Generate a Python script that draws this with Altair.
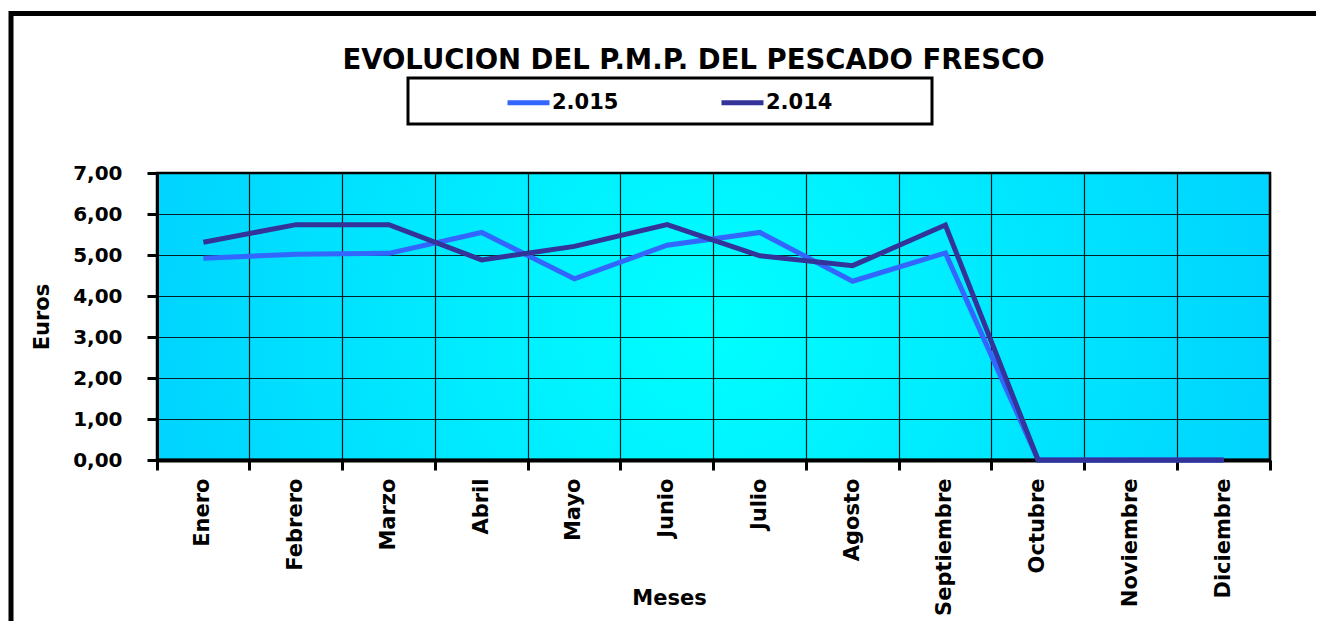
import altair as alt
import pandas as pd

months = ["Enero", "Febrero", "Marzo", "Abril", "Mayo", "Junio", "Julio",
          "Agosto", "Septiembre", "Octubre", "Noviembre", "Diciembre"]
v2015 = [4.92, 5.02, 5.04, 5.55, 4.42, 5.24, 5.55, 4.36, 5.05, 0.0, 0.0, 0.0]
v2014 = [5.31, 5.74, 5.74, 4.88, 5.21, 5.74, 4.98, 4.74, 5.73, 0.0, 0.0, 0.0]
series_names = ["2.015", "2.014"]
series_colors = ["#3366FF", "#333399"]
y_ticks = [0, 1, 2, 3, 4, 5, 6, 7]
title_text = "EVOLUCION DEL P.M.P. DEL PESCADO FRESCO"

rows = []
for m, a, b in zip(months, v2015, v2014):
    rows.append({"Mes": m, "Serie": series_names[0], "Euros": a})
    rows.append({"Mes": m, "Serie": series_names[1], "Euros": b})
df = pd.DataFrame(rows)

W, H = 1113, 287
FONT = "DejaVu Sans"

x_enc = alt.X(
    "Mes:N", sort=months, bandPosition=0.5,
    scale=alt.Scale(type="band", paddingInner=0, paddingOuter=0),
    axis=alt.Axis(
        title="Meses", labelAngle=-90, bandPosition=1, tickExtra=True,
        labelFont=FONT, labelFontSize=21,
        labelFontWeight="bold", labelColor="black", labelPadding=8, labelLimit=300,
        tickSize=10, tickWidth=3, tickColor="black",
        domainColor="black", domainWidth=4,
        grid=True, gridColor="black", gridWidth=1.2, gridOpacity=0.9,
        titleFont=FONT, titleFontSize=21, titleFontWeight="bold", titleColor="black",
        titleX=512, titleY=138, titleBaseline="middle", titleAlign="center",
    ),
)
y_enc = alt.Y(
    "Euros:Q",
    scale=alt.Scale(domain=[0, 7], nice=False, zero=True),
    axis=alt.Axis(
        title="Euros", values=y_ticks,
        labelExpr="replace(format(datum.value, '.2f'), '.', ',')",
        labelFont=FONT, labelFontSize=20, labelFontWeight="bold", labelColor="black",
        labelPadding=25, tickSize=10, tickWidth=3, tickColor="black",
        domainColor="black", domainWidth=3,
        grid=True, gridColor="black", gridWidth=1.2, gridOpacity=0.85,
        titleFont=FONT, titleFontSize=21, titleFontWeight="bold", titleColor="black",
        titlePadding=20,
    ),
)
color_enc = alt.Color(
    "Serie:N",
    scale=alt.Scale(domain=series_names, range=series_colors),
    legend=alt.Legend(
        orient="none", legendX=348, legendY=-94, direction="horizontal", title=None,
        symbolType="stroke", symbolStrokeWidth=5, symbolSize=1764,
        labelFont=FONT, labelFontSize=21, labelFontWeight="bold", labelColor="black",
        labelOffset=0, columnPadding=92, padding=0,
    ),
)

frame = alt.Chart(pd.DataFrame({"k": [0]})).mark_rect(
    filled=False, stroke="black", strokeWidth=5
).encode(x=alt.value(-146), x2=alt.value(1250), y=alt.value(-159.5), y2=alt.value(530))

legend_box = alt.Chart(pd.DataFrame({"k": [0]})).mark_rect(
    filled=False, stroke="black", strokeWidth=3
).encode(x=alt.value(251), x2=alt.value(775), y=alt.value(-95), y2=alt.value(-49))

line15 = alt.Chart(df).transform_filter(alt.datum.Serie == series_names[0]).mark_line(
    strokeWidth=5
).encode(x=x_enc, y=y_enc, color=color_enc)
line14 = alt.Chart(df).transform_filter(alt.datum.Serie == series_names[1]).mark_line(
    strokeWidth=5
).encode(x=x_enc, y=y_enc, color=color_enc)

grad = ("{gradient: 'radial', x1: 0.5, y1: 0.5, r1: 0, x2: 0.5, y2: 0.5, r2: 0.6, "
        "stops: [{offset: 0, color: '#00FFFF'}, {offset: 1, color: '#00CCFF'}]}")

chart = alt.layer(frame, legend_box, line15, line14).properties(
    width=W, height=H,
    autosize=alt.AutoSizeParams(type="none"),
    padding={"left": 149, "top": 165, "right": 46, "bottom": 161},
    background="white",
    title=alt.TitleParams(
        text=title_text, font=FONT, fontSize=27.5, fontWeight="bold", color="black",
        anchor="middle", frame="group", dx=-20, offset=-85, baseline="alphabetic",
    ),
).configure_view(stroke="black", strokeWidth=2.5, fill={"expr": grad})

chart.save("out.html", embed_options={"renderer": "svg", "actions": False})
